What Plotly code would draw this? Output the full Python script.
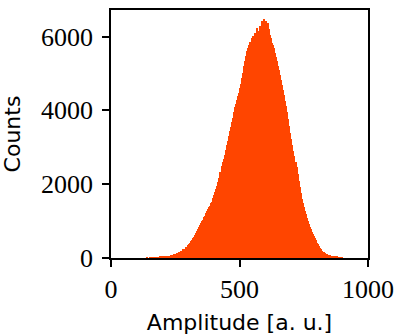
import plotly.graph_objects as go

# Histogram: bin left edges (amplitude, a.u.), bin width 4, and counts
bin_width = 4
bin_start = 140
counts = [
    4, 0, 8, 6, 12, 10, 18, 14, 22, 20,
    26, 24, 30, 34, 30, 45, 38, 48, 44, 55,
    52, 62, 66, 75, 82, 92, 96, 108, 112, 128,
    140, 150, 172, 185, 200, 232, 250, 285, 310, 345,
    385, 420, 470, 500, 545, 580, 620, 675, 720, 790,
    850, 900, 960, 1010, 1040, 1100, 1150, 1220, 1270, 1320,
    1380, 1420, 1480, 1530, 1620, 1700, 1780, 1870, 1960, 2060,
    2170, 2330, 2500, 2600, 2680, 2800, 2920, 3050, 3160, 3300,
    3430, 3560, 3690, 3800, 3950, 4080, 4180, 4280, 4380, 4480,
    4600, 4720, 4880, 5020, 5200, 5350, 5470, 5600, 5700, 5760,
    5850, 5830, 5960, 6010, 5980, 6100, 6080, 6220, 6150, 6300,
    6250, 6420, 6360, 6480, 6330, 6420, 6300, 6380, 6200, 6050,
    5950, 5820, 5760, 5680, 5560, 5450, 5330, 5200, 5100, 4960,
    4830, 4700, 4550, 4420, 4260, 4110, 3950, 3770, 3580, 3400,
    3220, 3060, 2900, 2760, 2600, 2460, 2280, 2100, 1920, 1760,
    1600, 1480, 1380, 1270, 1180, 1080, 1000, 920, 840, 780,
    700, 650, 590, 540, 480, 420, 370, 320, 280, 240,
    200, 175, 150, 130, 115, 100, 88, 75, 68, 58,
    50, 44, 38, 32, 28, 24, 20, 16, 12, 8,
]
bin_centers = [bin_start + bin_width * (i + 0.5) for i in range(len(counts))]

x_ticks = [0, 500, 1000]
y_ticks = [0, 2000, 4000, 6000]

fig = go.Figure(
    go.Bar(
        x=bin_centers,
        y=counts,
        width=bin_width,
        marker=dict(color="#FF4500", line=dict(width=0)),
    )
)

axis_common = dict(
    showline=True,
    linecolor="black",
    linewidth=1.6,
    mirror=True,
    ticks="outside",
    ticklen=7,
    tickwidth=1.6,
    tickcolor="black",
    showgrid=False,
    zeroline=False,
    automargin=False,
    tickfont=dict(family="Liberation Serif", size=26, color="black"),
)

fig.update_layout(
    width=395,
    height=336,
    margin=dict(l=111, r=27, t=10, b=78),
    plot_bgcolor="white",
    paper_bgcolor="white",
    bargap=0,
    showlegend=False,
    xaxis=dict(
        range=[0, 1000],
        tickvals=x_ticks,
        title=dict(text="Amplitude [a. u.]", font=dict(family="DejaVu Sans", size=22, color="black"), standoff=12),
        **axis_common,
    ),
    yaxis=dict(
        range=[0, 6720],
        tickvals=y_ticks,
        ticklabelstandoff=4,
        title=dict(text="Counts", font=dict(family="DejaVu Sans", size=22, color="black"), standoff=14),
        **axis_common,
    ),
)

fig.write_html("out.html")
